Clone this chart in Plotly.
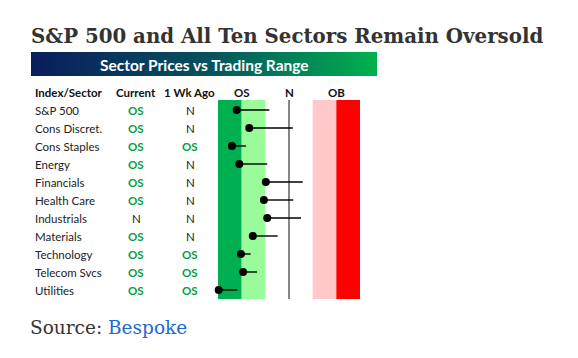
import plotly.graph_objects as go

W, H = 578, 358

sectors = ["S&P 500", "Cons Discret.", "Cons Staples", "Energy", "Financials",
           "Health Care", "Industrials", "Materials", "Technology", "Telecom Svcs", "Utilities"]
current = ["OS", "OS", "OS", "OS", "OS", "OS", "N", "OS", "OS", "OS", "OS"]
week_ago = ["N", "N", "OS", "N", "N", "N", "N", "N", "OS", "OS", "OS"]
# position vs trading range (std devs from 50-day average)
pos_now = [-2.21, -1.68, -2.41, -2.10, -0.98, -1.06, -0.92, -1.53, -2.03, -1.94, -2.97]
pos_week = [-0.83, 0.16, -1.82, -0.92, 0.58, 0.18, 0.51, -0.48, -1.62, -1.35, -2.18]
band_edges = [-3, -2, -1, 0, 1, 2, 3]
band_colors = ["#00b050", "#99fb99", None, None, "#ffc9c9", "#ff0000"]
band_labels = [("OS", -2), ("N", 0), ("OB", 2)]

rows = list(range(len(sectors)))

def px(x):
    return x / W

def py(y):
    return 1 - y / H

fig = go.Figure()

# connector lines (now -> 1 week ago)
lx, ly = [], []
for i in rows:
    lx += [pos_now[i], pos_week[i], None]
    ly += [i, i, None]
fig.add_trace(go.Scatter(x=lx, y=ly, mode="lines", line=dict(color="black", width=1.4),
                         hoverinfo="skip", showlegend=False, cliponaxis=False))
fig.add_trace(go.Scatter(x=pos_now, y=rows, mode="markers",
                         marker=dict(color="black", size=8), text=sectors,
                         showlegend=False, cliponaxis=False))

# banner with gradient on a pixel axis spanning the page
fig.add_trace(go.Scatter(x=[31, 377, 377, 31, 31], y=[52, 52, 76, 76, 52], xaxis="x2", yaxis="y2",
                         mode="lines", line=dict(width=0), fill="toself",
                         fillgradient=dict(type="horizontal",
                                           colorscale=[[0, "#0a1d5c"], [0.5, "#07505e"], [1, "#00b050"]]),
                         hoverinfo="skip", showlegend=False))

shapes = []
for j, c in enumerate(band_colors):
    if c:
        shapes.append(dict(type="rect", xref="x", yref="y domain", x0=band_edges[j], x1=band_edges[j + 1],
                           y0=0, y1=1, fillcolor=c, line=dict(width=0), layer="below"))
shapes.append(dict(type="line", xref="x", yref="y domain", x0=0, x1=0, y0=0, y1=1,
                   line=dict(color="#444", width=1.3), layer="below"))

ann = []
tfont = "Lato, Open Sans, sans-serif"
# header
hy = py(92.5)
hf = dict(family=tfont, size=11.5, color="#111")
ann.append(dict(text="<b>Index/Sector</b>", x=px(33), y=hy, xref="paper", yref="paper", xanchor="left",
                yanchor="middle", showarrow=False, font=hf))
ann.append(dict(text="<b>Current</b>", x=px(136), y=hy, xref="paper", yref="paper", xanchor="center",
                yanchor="middle", showarrow=False, font=hf))
ann.append(dict(text="<b>1 Wk Ago</b>", x=px(189), y=hy, xref="paper", yref="paper", xanchor="center",
                yanchor="middle", showarrow=False, font=hf))
for lab, xv in band_labels:
    ann.append(dict(text=f"<b>{lab}</b>", x=xv, y=hy, xref="x", yref="paper", xanchor="center",
                    yanchor="middle", showarrow=False, font=hf))

def status_font(s):
    if s == "OS":
        return dict(family=tfont, size=11.5, color="#00a046"), "<b>OS</b>"
    return dict(family=tfont, size=11.5, color="#222"), "N"

for i in rows:
    ann.append(dict(text=sectors[i], x=px(33), y=i, xref="paper", yref="y", xanchor="left",
                    showarrow=False, font=dict(family=tfont, size=11.5, color="#222")))
    f, t = status_font(current[i])
    ann.append(dict(text=t, x=px(136), y=i, xref="paper", yref="y", xanchor="center",
                    showarrow=False, font=f))
    f, t = status_font(week_ago[i])
    ann.append(dict(text=t, x=px(190), y=i, xref="paper", yref="y", xanchor="center",
                    showarrow=False, font=f))

ann.append(dict(text="<b>Sector Prices vs Trading Range</b>", x=px(204), y=py(64.5), xref="paper", yref="paper",
                xanchor="center", yanchor="middle", showarrow=False,
                font=dict(family=tfont, size=15.5, color="white")))
ann.append(dict(text="<b>S&P 500 and All Ten Sectors Remain Oversold</b>", x=px(29), y=py(36),
                xref="paper", yref="paper", xanchor="left", yanchor="middle", showarrow=False,
                font=dict(family="DejaVu Serif", size=19.8, color="#333")))
ann.append(dict(text="Source: <span style='color:#1a6ad2'>Bespoke</span>", x=px(28), y=py(327),
                xref="paper", yref="paper", xanchor="left", yanchor="middle", showarrow=False,
                font=dict(family="DejaVu Serif", size=18.5, color="#333")))

fig.update_layout(
    width=W, height=H, margin=dict(l=0, r=0, t=0, b=0),
    paper_bgcolor="white", plot_bgcolor="rgba(0,0,0,0)",
    xaxis=dict(domain=[px(218), px(360)], range=[-3, 3], visible=False, fixedrange=True),
    yaxis=dict(domain=[py(299), py(100)], range=[10 + 9 / 18, -10 / 18], visible=False, fixedrange=True),
    xaxis2=dict(domain=[0, 1], range=[0, W], visible=False, anchor="y2", fixedrange=True),
    yaxis2=dict(domain=[0, 1], range=[H, 0], visible=False, anchor="x2", fixedrange=True),
    shapes=shapes, annotations=ann,
)

fig.write_html("out.html", config={"displayModeBar": False},
               post_script="document.body.style.margin='0px';")
